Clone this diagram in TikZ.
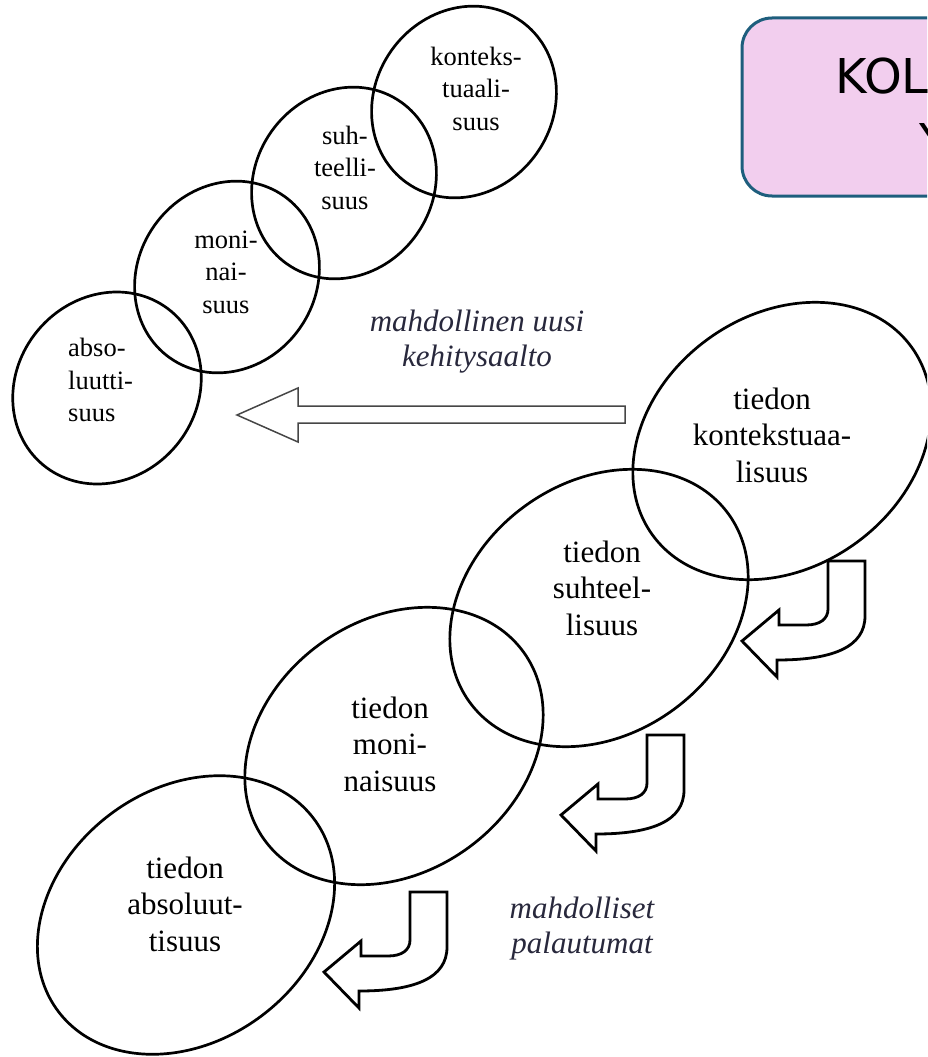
\documentclass[tikz,border=0pt]{standalone}
\usepackage{fontspec}
\setmainfont{Liberation Serif}
\newfontfamily\boxfont{DejaVu Sans}
\definecolor{labelc}{RGB}{40,40,60}
\definecolor{boxfill}{RGB}{242,206,238}
\definecolor{boxedge}{RGB}{30,94,125}
\definecolor{arrowgray}{RGB}{70,70,70}
\tikzset{
  ring/.style={line width=2.7pt, draw=black},
  uarrow/.style={line width=2.8pt, draw=black, line join=miter},
  bigarrow/.style={line width=1.5pt, draw=arrowgray, line join=miter},
  lbl/.style={inner sep=0pt, align=center, font=\fontsize{31}{36.5}\selectfont},
  slbl/.style={inner sep=0pt, align=center, font=\fontsize{26.5}{32.5}\selectfont},
  ital/.style={inner sep=0pt, align=center, text=labelc, font=\itshape\fontsize{31}{35}\selectfont},
  boxtxt/.style={inner sep=0pt, anchor=base west, font=\boxfont\fontsize{48}{58}\selectfont},
  uturn/.pic={\draw[uarrow] (0,0) -- (37,0) -- (37,55) .. controls (37,86) and (5,99) .. (-51,99) -- (-51,116) -- (-86,80) -- (-49,49) -- (-49,64) -- (-22,64) .. controls (-8,64) and (0,58) .. (0,48) -- cycle;}
}
\begin{document}
\begin{tikzpicture}[x=1pt,y=-1pt]
\useasboundingbox (0,0) rectangle (927,1057);
\clip (0,0) rectangle (927,1057);

% top-left small ellipses
\draw[ring, rotate around={55:(464,102)}] (464,102) ellipse [x radius=99pt, y radius=89pt];
\draw[ring, rotate around={55:(344,183)}] (344,183) ellipse [x radius=99pt, y radius=89pt];
\draw[ring, rotate around={55:(227,277)}] (227,277) ellipse [x radius=99pt, y radius=89pt];
\draw[ring, rotate around={50:(107,388)}] (107,388) ellipse [x radius=100pt, y radius=90pt];

\node[slbl] (s1) at (476,88.5) {konteks-\\tuaali-\\suus};
\node[slbl] (s2) at (345,167.5) {suh-\\teelli-\\suus};
\node[slbl] (s3) at (226,272) {moni-\\nai-\\suus};
\node[slbl, align=left, anchor=west] (s4) at (68,380) {abso-\\luutti-\\suus};

% bottom-right large ellipses
\draw[ring, rotate around={36:(782,441)}] (782,441) ellipse [x radius=160pt, y radius=126pt];
\draw[ring, rotate around={36:(599,608)}] (599,608) ellipse [x radius=160pt, y radius=126pt];
\draw[ring, rotate around={36:(394,746)}] (394,746) ellipse [x radius=160pt, y radius=126pt];
\draw[ring, rotate around={37:(186,915)}] (186,915) ellipse [x radius=160pt, y radius=126pt];

\node[lbl] (t1) at (772,435) {tiedon\\kontekstuaa-\\lisuus};
\node[lbl] (t2) at (602,588) {tiedon\\suhteel-\\lisuus};
\node[lbl] (t3) at (390,744) {tiedon\\moni-\\naisuus};
\node[lbl] (t4) at (185,904) {tiedon\\absoluut-\\tisuus};

% italic labels
\node[ital] (wave) at (477,341.5) {mahdollinen uusi\\kehitysaalto};
\node[ital] (ret) at (582,929) {mahdolliset\\palautumat};

% big hollow arrow
\draw[bigarrow] (625,406) -- (298,406) -- (298,388) -- (237,415) -- (298,442) -- (298,423) -- (625,423) -- cycle;

% U-turn arrows
\pic at (828,561) {uturn};
\pic at (647,735) {uturn};
\pic at (410,892) {uturn};

% box (clipped at right edge, as in the reference)
\draw[line width=3pt, draw=boxedge, fill=boxfill, rounded corners=30pt] (742,18) rectangle (1000,196);
\node[boxtxt] (kol) at (835,93) {KOL};
\node[boxtxt] (yy) at (919,158) {Y};
\end{tikzpicture}
\end{document}
